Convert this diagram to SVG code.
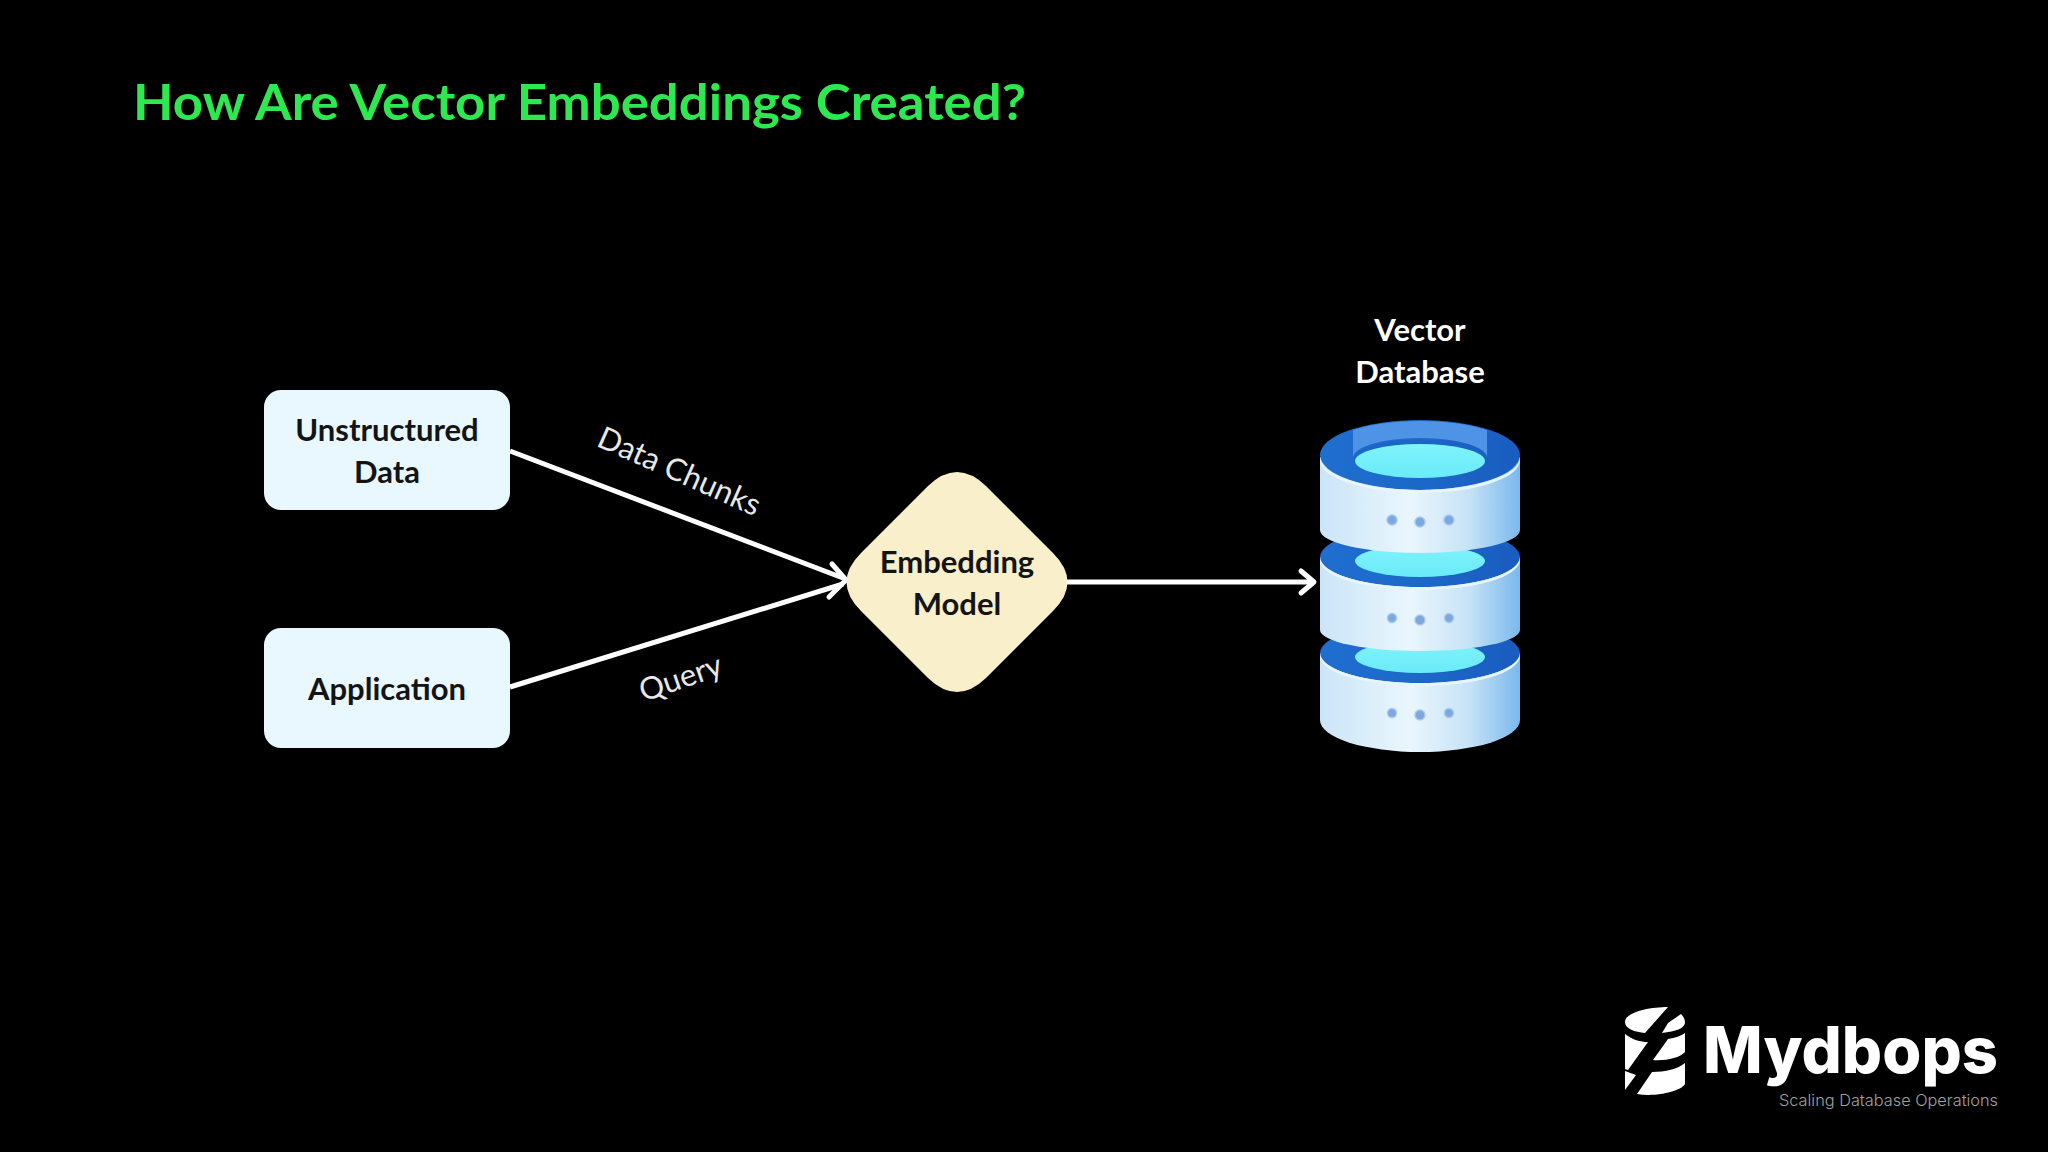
<svg xmlns="http://www.w3.org/2000/svg" width="2048" height="1152" viewBox="0 0 2048 1152">
<style>
text{font-family:Lato,"Open Sans","Liberation Sans",sans-serif}
.n{font-size:31px;font-weight:700;fill:#141414;text-anchor:middle}
.w{font-size:31px;font-weight:700;fill:#fff;text-anchor:middle}
.l{font-size:31px;font-weight:400;fill:#e8e8e8;text-anchor:middle}
.box{fill:#e8f8fe}
.c{fill:none;stroke:#fff;stroke-width:5}
.h{fill:none;stroke:#fff;stroke-width:5;stroke-linecap:round;stroke-linejoin:round}
.dot{fill:#7ba8de;stroke:#a9c8ec;stroke-width:1.5}
.inner{fill:url(#cy)}
.side{fill:url(#side)}
.ring{fill:url(#ring)}
</style>
<defs>
<linearGradient id="side" x1="0" x2="1" y1="0" y2="0"><stop offset="0" stop-color="#cbe5f8"/><stop offset="0.45" stop-color="#eaf6fd"/><stop offset="0.75" stop-color="#c6e2f6"/><stop offset="1" stop-color="#7ab8ec"/></linearGradient>
<linearGradient id="ring" x1="0" x2="1" y1="0" y2="0"><stop offset="0" stop-color="#1f6fd0"/><stop offset="0.5" stop-color="#1c68c8"/><stop offset="1" stop-color="#1a5cc0"/></linearGradient>
<linearGradient id="cy" x1="0" x2="0" y1="0" y2="1"><stop offset="0" stop-color="#7ff4fc"/><stop offset="1" stop-color="#6aeaf8"/></linearGradient>
</defs>
<rect width="2048" height="1152" fill="#000"/>
<text id="title" x="133" y="120" font-size="50" font-weight="700" fill="#2de84e" textLength="893" lengthAdjust="spacingAndGlyphs">How Are Vector Embeddings Created?</text>
<g id="connectors">
<path class="c" d="M510 451 L843 578"/>
<path class="c" d="M510 687 L843 584"/>
<path class="h" d="M832 564 L846 580 L829 597"/>
<path class="c" d="M1067 582 L1312 582"/>
<path class="h" d="M1301 571 L1314 582 L1301 593"/>
<text class="l" transform="translate(675 481) rotate(24)">Data Chunks</text>
<text class="l" transform="translate(684 688) rotate(-19)">Query</text>
</g>
<g id="unstructured-data">
<rect class="box" x="264" y="390" width="246" height="120" rx="17"/>
<text class="n" x="387" y="441">Unstructured</text>
<text class="n" x="387" y="483">Data</text>
</g>
<g id="application">
<rect class="box" x="264" y="628" width="246" height="120" rx="17"/>
<text class="n" x="387" y="700">Application</text>
</g>
<g id="embedding-model">
<path fill="#f9efcb" d="M928 486 Q957 458 986 486 L1053 553 Q1082 582 1053 611 L986 678 Q957 706 928 678 L861 611 Q832 582 861 553 Z"/>
<text class="n" x="957" y="573">Embedding</text>
<text class="n" x="957" y="615">Model</text>
</g>
<g id="vector-database">
<text class="w" x="1420" y="341">Vector</text>
<text class="w" x="1420" y="383">Database</text>
<path class="side" d="M1320 653 V720 A100 32 0 0 0 1520 720 V653 Z"/>
<ellipse class="ring" cx="1420" cy="653" rx="100" ry="30"/>
<ellipse class="inner" cx="1420" cy="657" rx="65" ry="16"/>
<path fill="#e8f5fd" d="M1320 653 A100 30 0 0 0 1520 653 L1520 656 A100 30 0 0 1 1320 656 Z"/>
<g><circle class="dot" cx="1392" cy="713" r="4.5"/><circle class="dot" cx="1420" cy="715" r="5"/><circle class="dot" cx="1449" cy="713" r="4.5"/></g>
<path class="side" d="M1320 557 V630 A100 21 0 0 0 1520 630 V557 Z"/>
<ellipse class="ring" cx="1420" cy="557" rx="100" ry="30"/>
<ellipse class="inner" cx="1420" cy="561" rx="65" ry="16"/>
<path fill="#e8f5fd" d="M1320 557 A100 30 0 0 0 1520 557 L1520 560 A100 30 0 0 1 1320 560 Z"/>
<g><circle class="dot" cx="1392" cy="618" r="4.5"/><circle class="dot" cx="1420" cy="620" r="5"/><circle class="dot" cx="1449" cy="618" r="4.5"/></g>
<path class="side" d="M1320 457 V530 A100 23 0 0 0 1520 530 V457 Z"/>
<ellipse class="ring" cx="1420" cy="455" rx="100" ry="35"/>
<path fill="#4f93e6" d="M1353 430 V458 A67 20 0 0 1 1487 458 V430 A100 35 0 0 0 1353 430 Z"/>
<ellipse fill="#1a62c4" cx="1420" cy="459" rx="67" ry="19" opacity=".6"/>
<ellipse class="inner" cx="1420" cy="461" rx="65" ry="17"/>
<path fill="#e8f5fd" d="M1320 457 A100 33 0 0 0 1520 457 L1520 460 A100 33 0 0 1 1320 460 Z"/>
<g><circle class="dot" cx="1392" cy="520" r="5"/><circle class="dot" cx="1420" cy="522" r="5"/><circle class="dot" cx="1449" cy="520" r="5"/></g>
</g>
<g id="logo">
<path fill="#fff" d="M1625 1022 C1625 1012 1650 1007 1668 1007 L1645 1033 C1635 1032 1625 1029 1625 1022 Z"/>
<path fill="#fff" d="M1668 1023 L1681 1014 C1684 1017 1685 1020 1685 1023 C1684 1029 1676 1031 1662 1033 Z"/>
<path fill="#fff" d="M1625 1034 C1633 1040 1640 1042 1648 1042 L1628 1070 L1625 1069 Z"/>
<path fill="#fff" d="M1653 1060 L1668 1039 C1675 1038 1681 1036 1685 1033 V1052 C1680 1058 1665 1061 1653 1060 Z"/>
<path fill="#fff" d="M1625 1071 L1636 1075 L1625 1090 Z"/>
<path fill="#fff" d="M1637 1094 L1652 1072 C1665 1072 1678 1069 1685 1063 V1084 C1680 1092 1655 1097 1637 1094 Z"/>
<text x="1703" y="1073" font-size="64" font-weight="800" fill="#fff" style="font-family:Inter,Lato,sans-serif" textLength="295" lengthAdjust="spacingAndGlyphs">Mydbops</text>
<text x="1779" y="1106" font-size="16" font-weight="300" fill="#a0a0a0" style="font-family:Inter,Lato,sans-serif" textLength="219" lengthAdjust="spacingAndGlyphs">Scaling Database Operations</text>
</g>
</svg>
